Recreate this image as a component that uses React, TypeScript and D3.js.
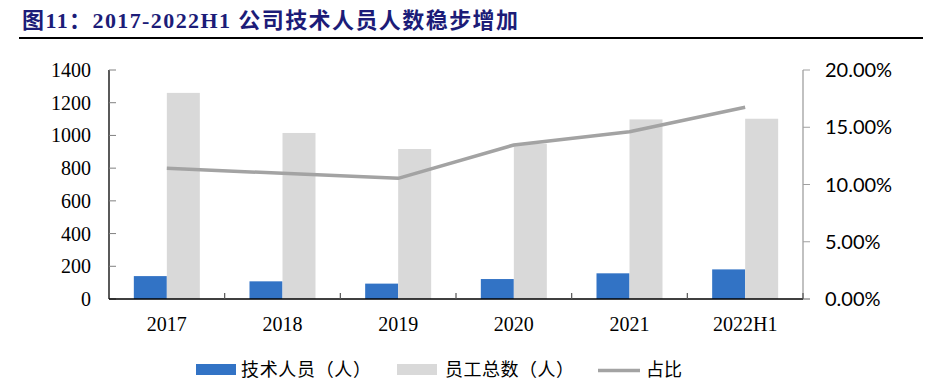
import React from 'react';
import * as d3 from 'd3';

const categories = ['2017', '2018', '2019', '2020', '2021', '2022H1'];
const techStaff = [140, 108, 94, 122, 157, 181];
const totalStaff = [1260, 1015, 917, 950, 1098, 1102];
const ratio = [0.1141, 0.1098, 0.1054, 0.1345, 0.146, 0.1674];
const leftTicks = [0, 200, 400, 600, 800, 1000, 1200, 1400];
const rightTicks = [0, 0.05, 0.1, 0.15, 0.2];

const W = 941;
const H = 383;
const L = 109;
const R = 803;
const T = 70;
const B = 299;

export default function App() {
  const x = d3.scaleBand<string>().domain(categories).range([L, R]);
  const yL = d3.scaleLinear().domain([0, 1400]).range([B, T]);
  const yR = d3.scaleLinear().domain([0, 0.2]).range([B, T]);
  const bw = 33;
  const cx = (c: string) => (x(c) as number) + x.bandwidth() / 2;
  const line = d3
    .line<number>()
    .x((_, i) => cx(categories[i]))
    .y((d) => yR(d));
  const serif = '"Liberation Serif", "Times New Roman", serif';
  const cjk = '"Noto Sans CJK SC", sans-serif';

  return (
    <svg
      width={W}
      height={H}
      style={{ position: 'absolute', left: 0, top: 0, background: '#fff' }}
    >
      <text
        x={22}
        y={28}
        fontSize={22}
        fontWeight="bold"
        fill="#1c1c78"
        textLength={496}
        lengthAdjust="spacing"
        style={{ fontFamily: `"Liberation Serif", "Noto Sans CJK SC", serif` }}
      >
        图11：2017-2022H1 公司技术人员人数稳步增加
      </text>
      <line x1={19} x2={923} y1={38} y2={38} stroke="#000" strokeWidth={2.2} />

      {/* bars */}
      {categories.map((c, i) => (
        <g key={c}>
          <rect
            x={cx(c) - bw}
            y={yL(techStaff[i])}
            width={bw}
            height={B - yL(techStaff[i])}
            fill="#3273c5"
          />
          <rect
            x={cx(c)}
            y={yL(totalStaff[i])}
            width={bw}
            height={B - yL(totalStaff[i])}
            fill="#d9d9d9"
          />
        </g>
      ))}

      {/* line */}
      <path d={line(ratio) || ''} fill="none" stroke="#a3a3a3" strokeWidth={3.5} strokeLinejoin="round" />

      {/* left axis */}
      <line x1={L} x2={L} y1={T} y2={B} stroke="#000" strokeWidth={1.3} />
      {leftTicks.map((t) => (
        <g key={t}>
          <line x1={L} x2={L + 7} y1={yL(t)} y2={yL(t)} stroke="#808080" strokeWidth={1} />
          <text
            x={91}
            y={yL(t)}
            dy="0.35em"
            textAnchor="end"
            fontSize={20}
            fill="#000"
            style={{ fontFamily: serif }}
          >
            {t}
          </text>
        </g>
      ))}

      {/* right axis */}
      <line x1={R} x2={R} y1={T} y2={B} stroke="#a0a0a0" strokeWidth={1.3} />
      {rightTicks.map((t) => (
        <g key={t}>
          <line x1={R} x2={R + 7} y1={yR(t)} y2={yR(t)} stroke="#a0a0a0" strokeWidth={1} />
          <text
            x={825}
            y={yR(t)}
            dy="0.36em"
            fontSize={20}
            fill="#000"
            style={{ fontFamily: 'Lato, "Open Sans", sans-serif' }}
          >
            {(t * 100).toFixed(2) + '%'}
          </text>
        </g>
      ))}

      {/* x axis */}
      <line x1={L} x2={R} y1={B} y2={B} stroke="#000" strokeWidth={1.3} />
      <line x1={R} x2={R + 7} y1={B} y2={B} stroke="#a0a0a0" strokeWidth={1.3} />
      {categories.slice(1).map((c) => (
        <line key={c} x1={x(c) as number} x2={x(c) as number} y1={B} y2={B - 6} stroke="#555" strokeWidth={1.2} />
      ))}
      <line x1={R} x2={R} y1={B} y2={B - 6} stroke="#555" strokeWidth={1.2} />
      {categories.map((c) => (
        <text
          key={c}
          x={cx(c)}
          y={331}
          textAnchor="middle"
          fontSize={20}
          fill="#000"
          style={{ fontFamily: serif }}
        >
          {c}
        </text>
      ))}

      {/* legend */}
      <rect x={196} y={364} width={40} height={11} fill="#3273c5" />
      <text x={241} y={376} fontSize={18} fill="#000" textLength={130} lengthAdjust="spacing" style={{ fontFamily: cjk }}>
        技术人员（人）
      </text>
      <rect x={397} y={364} width={40} height={11} fill="#d9d9d9" />
      <text x={445} y={376} fontSize={18} fill="#000" textLength={129} lengthAdjust="spacing" style={{ fontFamily: cjk }}>
        员工总数（人）
      </text>
      <line x1={598} x2={640} y1={370.5} y2={370.5} stroke="#a3a3a3" strokeWidth={3.5} />
      <text x={646} y={376} fontSize={18} fill="#000" textLength={36} lengthAdjust="spacing" style={{ fontFamily: cjk }}>
        占比
      </text>
    </svg>
  );
}
